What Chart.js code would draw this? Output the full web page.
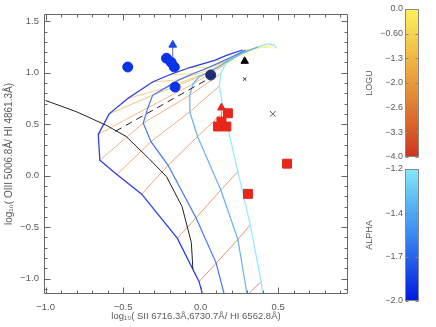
<!DOCTYPE html>
<html>
<head>
<meta charset="utf-8">
<script src="https://cdn.jsdelivr.net/npm/chart.js@4.4.0/dist/chart.umd.min.js"></script>
<style>
  body { margin: 0; background: #fff; width: 436px; height: 327px; overflow: hidden; position: relative; }
  canvas { position: absolute; }
  #main { left: 0; top: 0; }
  #cbU { left: 360px; top: 0; }
  #cbA { left: 360px; top: 160px; }
</style>
</head>
<body>
<canvas id="main" width="360" height="327"></canvas>
<canvas id="cbU" width="76" height="165"></canvas>
<canvas id="cbA" width="76" height="167"></canvas>
<script>
// model grid: one track per alpha, one vertex per logU (top = logU 0)
const logU = [0.0, -0.27, -0.53, -0.8, -1.07, -1.33, -1.6, -1.87, -2.13, -2.4, -2.67, -2.93, -3.2, -3.47, -3.73, -4.0];
const alphas = [-2.0, -1.73, -1.47, -1.2];

const a20X = [0.27, 0.17, 0.09, -0.07, -0.20, -0.31, -0.47, -0.59, -0.66, -0.65, -0.54, -0.38, -0.15, -0.01, 0.02, 0.05];
const a20Y = [1.22, 1.17, 1.12, 1.05, 0.98, 0.91, 0.75, 0.60, 0.40, 0.15, 0.01, -0.18, -0.61, -1.03, -1.20, -1.45];
const a17X = [0.29, 0.21, 0.14, 0.05, -0.05, -0.14, -0.23, -0.31, -0.34, -0.37, -0.32, -0.21, -0.03, 0.10, 0.16, 0.19];
const a17Y = [1.22, 1.16, 1.11, 1.05, 0.99, 0.93, 0.85, 0.78, 0.66, 0.51, 0.33, 0.10, -0.41, -0.85, -1.20, -1.45];
const a14X = [0.37, 0.32, 0.26, 0.22, 0.17, 0.12, 0.06, -0.01, -0.05, -0.07, -0.07, -0.02, 0.13, 0.24, 0.30, 0.33];
const a14Y = [1.25, 1.22, 1.19, 1.15, 1.11, 1.06, 1.01, 0.96, 0.89, 0.78, 0.62, 0.38, -0.14, -0.62, -1.16, -1.40];
const a12X = [0.49, 0.47, 0.43, 0.39, 0.35, 0.30, 0.25, 0.21, 0.16, 0.13, 0.12, 0.15, 0.24, 0.32, 0.39, 0.41];
const a12Y = [1.24, 1.27, 1.28, 1.26, 1.24, 1.21, 1.18, 1.14, 1.08, 0.99, 0.87, 0.62, 0.04, -0.48, -1.03, -1.30];

// demarcation curve + dashed line
const kewX = [-1.0, -0.80, -0.61, -0.48, -0.33, -0.22, -0.12, -0.06, -0.05];
const kewY = [0.73, 0.62, 0.49, 0.38, 0.16, -0.01, -0.30, -0.65, -0.91];
const dashX = [-0.55, 0.05];
const dashY = [0.43, 0.94];

// observed objects
const blueX = [-0.47, -0.22, -0.19, -0.17, -0.165];
const blueY = [1.055, 1.14, 1.10, 1.055, 0.86];
const navyX = [0.065];
const navyY = [0.977];
const blueLimX = [-0.18];
const blueLimY = [1.27];
const redX = [0.176, 0.112, 0.134, 0.166, 0.557, 0.305];
const redY = [0.606, 0.477, 0.525, 0.477, 0.116, -0.177];
const redLimX = [0.134];
const redLimY = [0.66];
const blackTriX = [0.284];
const blackTriY = [1.112];
const crossSmX = [0.284];
const crossSmY = [0.938];
const crossLgX = [0.465];
const crossLgY = [0.600];

const xTicks = [-1.0, -0.5, 0.0, 0.5];
const yTicks = [-1.0, -0.5, 0.0, 0.5, 1.0, 1.5];
const uTicks = [0, -0.667, -1.333, -2.0, -2.667, -3.333, -4.0];
const uLabels = ['0.0', '\u22120.60', '\u22121.3', '\u22122.0', '\u22122.6', '\u22123.3', '\u22124.0'];
const aTicks = [-1.2, -1.467, -1.733, -2.0];
const aLabels = ['\u22121.2', '\u22121.4', '\u22121.7', '\u22122.0'];

const uStops = ['#cc3420', '#dc6a2c', '#e89a3a', '#f2c64a', '#fff05c'];
const aStops = ['#0018e0', '#1e50e8', '#3c88f0', '#5cb8f4', '#84e8fa'];

Chart.defaults.font.family = '"Liberation Sans", "DejaVu Sans", sans-serif';
Chart.defaults.font.size = 9;
Chart.defaults.color = '#5a5a5a';

function mix(stops, t, alpha) {
  t = Math.max(0, Math.min(1, t)) * (stops.length - 1);
  const i = Math.min(stops.length - 2, Math.floor(t)), f = t - i;
  const a = parseInt(stops[i].slice(1), 16), b = parseInt(stops[i + 1].slice(1), 16);
  const ch = s => Math.round(((a >> s) & 255) * (1 - f) + ((b >> s) & 255) * f);
  return 'rgba(' + ch(16) + ',' + ch(8) + ',' + ch(0) + ',' + alpha + ')';
}
const uColor = u => mix(uStops, (u + 4) / 4, 0.62);
const aColor = al => mix(aStops, (al + 2) / 0.8, 0.85);
const fmt = v => (v < 0 ? '\u2212' : '') + Math.abs(v).toFixed(1);
const pts = (xs, ys) => xs.map((x, i) => ({ x, y: ys[i] }));

// inward ticks + box, drawn through the chart scales
const frameTicks = {
  id: 'frameTicks',
  afterDatasetsDraw(chart, args, o) {
    const { ctx, chartArea: a, scales } = chart;
    const L = Math.round(a.left) + 0.5, R = Math.round(a.right) - 0.5;
    const T = Math.round(a.top) + 0.5, B = Math.round(a.bottom) - 0.5;
    ctx.save();
    ctx.strokeStyle = o.color;
    ctx.lineWidth = 1;
    ctx.beginPath();
    ctx.rect(L, T, R - L, B - T);
    const mark = (scale, vals, len, horiz) => vals.forEach(v => {
      const p = Math.round(scale.getPixelForValue(v)) + 0.5;
      if (horiz) {
        ctx.moveTo(p, B); ctx.lineTo(p, B - len);
        ctx.moveTo(p, T); ctx.lineTo(p, T + len);
      } else {
        ctx.moveTo(L, p); ctx.lineTo(L + len, p);
        ctx.moveTo(R, p); ctx.lineTo(R - len, p);
      }
    });
    if (o.xMajor) mark(scales.x, o.xMajor, o.majorLen, true);
    if (o.xMinor) mark(scales.x, o.xMinor, o.minorLen, true);
    if (o.yMajor) mark(scales.y, o.yMajor, o.majorLen, false);
    if (o.yMinor) mark(scales.y, o.yMinor, o.minorLen, false);
    ctx.stroke();
    ctx.restore();
  }
};

const xMinor = [], yMinor = [];
for (let i = -10; i <= 9; i++) xMinor.push(i / 10);
for (let i = -11; i <= 15; i++) yMinor.push(i / 10);

const datasets = [];
const alphaX = [a20X, a17X, a14X, a12X];
const alphaY = [a20Y, a17Y, a14Y, a12Y];
logU.forEach((u, j) => {
  datasets.push({
    data: alphaX.map((xs, k) => ({ x: xs[j], y: alphaY[k][j] })),
    showLine: true, pointRadius: 0, borderWidth: 1,
    borderColor: uColor(u), order: 6
  });
});
alphas.forEach((al, k) => {
  datasets.push({
    data: pts(alphaX[k], alphaY[k]),
    showLine: true, pointRadius: 0, borderWidth: 1.25,
    borderColor: aColor(al), order: 5
  });
});
datasets.push({ data: pts(kewX, kewY), showLine: true, pointRadius: 0, borderWidth: 1, borderColor: '#222', order: 4 });
datasets.push({ data: pts(dashX, dashY), showLine: true, pointRadius: 0, borderWidth: 1, borderColor: '#222', borderDash: [7, 5], order: 4 });
// upper-limit arrows
datasets.push({ data: [{ x: blueLimX[0], y: blueY[2] }, { x: blueLimX[0], y: blueLimY[0] }], showLine: true, pointRadius: 0, borderWidth: 1, borderColor: '#5a6ab0', order: 3 });
datasets.push({ data: [{ x: redLimX[0], y: redY[2] }, { x: redLimX[0], y: redLimY[0] }], showLine: true, pointRadius: 0, borderWidth: 1, borderColor: '#999', order: 3 });
const marker = (xs, ys, style, r, color) => ({
  data: pts(xs, ys), showLine: false, pointStyle: style, pointRadius: r,
  backgroundColor: color, borderColor: color, borderWidth: 1, order: 1
});
datasets.push(marker(blueX, blueY, 'circle', 5, '#0a32e6'));
datasets.push(marker(navyX, navyY, 'circle', 5, '#1e2d78'));
datasets.push(marker(blueLimX, blueLimY, 'triangle', 4.5, '#1e46e6'));
datasets.push(marker(redX, redY, 'rect', 6.3, '#e8261a'));
datasets.push(marker(redLimX, redLimY, 'triangle', 4.5, '#e8261a'));
datasets.push(marker(blackTriX, blackTriY, 'triangle', 4.3, '#000'));
datasets.push(marker(crossSmX, crossSmY, 'crossRot', 2.5, '#333'));
datasets.push(marker(crossLgX, crossLgY, 'crossRot', 4, '#555'));

new Chart(document.getElementById('main'), {
  type: 'scatter',
  data: { datasets },
  plugins: [frameTicks],
  options: {
    responsive: false, animation: false, events: [],
    layout: { padding: { top: 14, right: 12, left: 0, bottom: 0 } },
    plugins: {
      legend: { display: false }, tooltip: { enabled: false },
      frameTicks: { color: '#666', majorLen: 6, minorLen: 3, xMajor: xTicks, xMinor, yMajor: yTicks, yMinor }
    },
    scales: {
      x: {
        type: 'linear', min: -1.01, max: 0.95,
        grid: { display: false, drawTicks: false }, border: { display: false },
        afterBuildTicks: s => { s.ticks = xTicks.map(v => ({ value: v })); },
        afterFit: s => { s.height = 33; },
        ticks: { padding: 8, callback: v => fmt(v), maxRotation: 0, font: { size: 9.5 } },
        title: { display: true, text: 'log\u2081\u2080( SII 6716.3\u00c5,6730.7\u00c5/ HI 6562.8\u00c5)', font: { size: 9.5 }, padding: { top: 0, bottom: 5 } }
      },
      y: {
        type: 'linear', min: -1.15, max: 1.57,
        grid: { display: false, drawTicks: false }, border: { display: false },
        afterBuildTicks: s => { s.ticks = yTicks.map(v => ({ value: v })); },
        afterFit: s => { s.width = 44; },
        ticks: { padding: 5, callback: v => fmt(v), font: { size: 9.5 } },
        title: { display: true, text: 'log\u2081\u2080( OIII 5006.8\u00c5/ HI 4861.3\u00c5)', font: { size: 10 }, padding: { top: 3, bottom: 0 } }
      }
    }
  }
});

function colorBar(id, lo, hi, stops, ticks, labels, title, padBottom) {
  new Chart(document.getElementById(id), {
    type: 'bar',
    data: {
      labels: [''],
      datasets: [{
        data: [[lo, hi]],
        barPercentage: 1, categoryPercentage: 1, borderWidth: 0,
        backgroundColor: c => {
          const area = c.chart.chartArea;
          if (!area) return null;
          const g = c.chart.ctx.createLinearGradient(0, area.bottom, 0, area.top);
          stops.forEach((s, i) => g.addColorStop(i / (stops.length - 1), s));
          return g;
        }
      }]
    },
    plugins: [frameTicks],
    options: {
      responsive: false, animation: false, events: [],
      layout: { padding: { top: 9, right: 17, left: 0, bottom: padBottom } },
      plugins: {
        legend: { display: false }, tooltip: { enabled: false },
        frameTicks: { color: '#888', majorLen: 3, minorLen: 0, yMajor: ticks }
      },
      scales: {
        x: { display: false },
        y: {
          min: lo, max: hi,
          grid: { display: false, drawTicks: false }, border: { display: false },
          afterBuildTicks: s => { s.ticks = ticks.map(v => ({ value: v })); },
          afterFit: s => { s.width = 45; },
          ticks: { padding: 2, callback: (v, i) => labels[i] },
          title: { display: true, text: title, padding: { top: 4, bottom: 0 } }
        }
      }
    }
  });
}
colorBar('cbU', -4.0, 0.0, uStops, uTicks, uLabels, 'LOGU', 8);
colorBar('cbA', -2.0, -1.2, aStops, aTicks, aLabels, 'ALPHA', 26);
</script>
</body>
</html>
